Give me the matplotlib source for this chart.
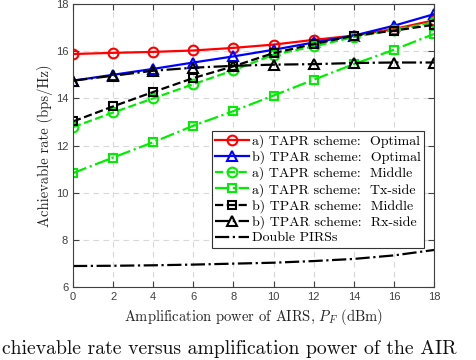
import numpy as np
import matplotlib
matplotlib.use('Agg')
import matplotlib.pyplot as plt

plt.rcParams['mathtext.fontset'] = 'cm'

# amplification power of AIRS (dBm)
p_f = [0, 2, 4, 6, 8, 10, 12, 14, 16, 18]

tapr_opt = [15.88, 15.93, 15.97, 16.03, 16.14, 16.28, 16.48, 16.66, 16.94, 17.31]
tpar_opt = [14.75, 15.00, 15.25, 15.52, 15.78, 16.06, 16.37, 16.66, 17.08, 17.57]
tapr_mid = [12.78, 13.40, 14.00, 14.60, 15.19, 15.85, 16.20, 16.60, 16.91, 17.22]
tapr_tx = [10.83, 11.49, 12.14, 12.84, 13.46, 14.12, 14.79, 15.45, 16.06, 16.73]
tpar_mid = [13.02, 13.66, 14.27, 14.86, 15.36, 15.92, 16.30, 16.66, 16.87, 17.12]
tpar_rx = [14.75, 14.96, 15.17, 15.30, 15.38, 15.43, 15.45, 15.50, 15.52, 15.52]
double_pirs = [6.89, 6.90, 6.92, 6.95, 6.99, 7.03, 7.10, 7.19, 7.34, 7.57]

labels = ['a) TAPR scheme:  Optimal', 'b) TPAR scheme:  Optimal',
          'a) TAPR scheme:  Middle', 'a) TAPR scheme:  Tx-side',
          'b) TPAR scheme:  Middle', 'b) TPAR scheme:  Rx-side',
          'Double PIRSs']

fig = plt.figure(figsize=(4.76, 3.6), dpi=100)
ax = fig.add_axes([0.1534, 0.2028, 0.7584, 0.786])

green = '#00ee00'
ms = 7
ax.plot(p_f, tapr_opt, '-', color='red', marker='o', ms=ms, mfc='none', mew=1.5, lw=1.6, label=labels[0])
ax.plot(p_f, tpar_opt, '-', color='blue', marker='^', ms=ms, mfc='none', mew=1.5, lw=1.6, label=labels[1])
ax.plot(p_f, tapr_mid, '--', color=green, marker='o', ms=ms, mfc='none', mew=1.5, lw=1.6, label=labels[2])
ax.plot(p_f, tapr_tx, '-.', color=green, marker='s', ms=5.5, mfc='none', mew=1.5, lw=1.6, label=labels[3])
ax.plot(p_f, tpar_mid, '--', color='black', marker='s', ms=5.5, mfc='none', mew=1.5, lw=1.6, label=labels[4])
ax.plot(p_f, tpar_rx, '-.', color='black', marker='^', ms=ms, mfc='none', mew=1.5, lw=1.6, label=labels[5])
ax.plot(p_f, double_pirs, '-.', color='black', lw=1.6, label=labels[6])

ax.set_xlim(0, 18)
ax.set_ylim(6, 18)
ax.set_xticks(np.arange(0, 19, 2))
ax.set_yticks(np.arange(6, 19, 2))
ax.grid(True, linestyle=(0, (5, 4)), color='#d8d8d8', lw=0.8)
ax.set_axisbelow(True)
ax.tick_params(direction='in', top=True, right=True, labelsize=8, colors='#404040', length=4)
for lab in ax.get_xticklabels() + ax.get_yticklabels():
    lab.set_fontfamily('Liberation Sans')
for s in ax.spines.values():
    s.set_color('#404040')
    s.set_linewidth(0.8)

ax.set_xlabel('Amplification power of AIRS, $P_F$ (dBm)', fontfamily='cmr10', fontsize=10.5, color='#222222', labelpad=4)
ax.set_ylabel('Achievable rate (bps/Hz)', fontfamily='cmr10', fontsize=10.5, color='#222222', labelpad=2)

leg = ax.legend(loc='lower right', bbox_to_anchor=(0.972, 0.138), prop={'family': 'cmr10', 'size': 10},
                fancybox=False, framealpha=1, edgecolor='#333333', handlelength=2.4,
                handletextpad=0.2, borderpad=0.25, labelspacing=0.2, borderaxespad=0)
leg.get_frame().set_linewidth(0.8)

# caption fragment visible under the figure
fig.text(0.004, 0.016, 'chievable rate versus amplification power of the AIR', fontfamily='cmr10',
         fontsize=14.2, color='#111111', va='baseline')

fig.savefig('out.png', dpi=100)
